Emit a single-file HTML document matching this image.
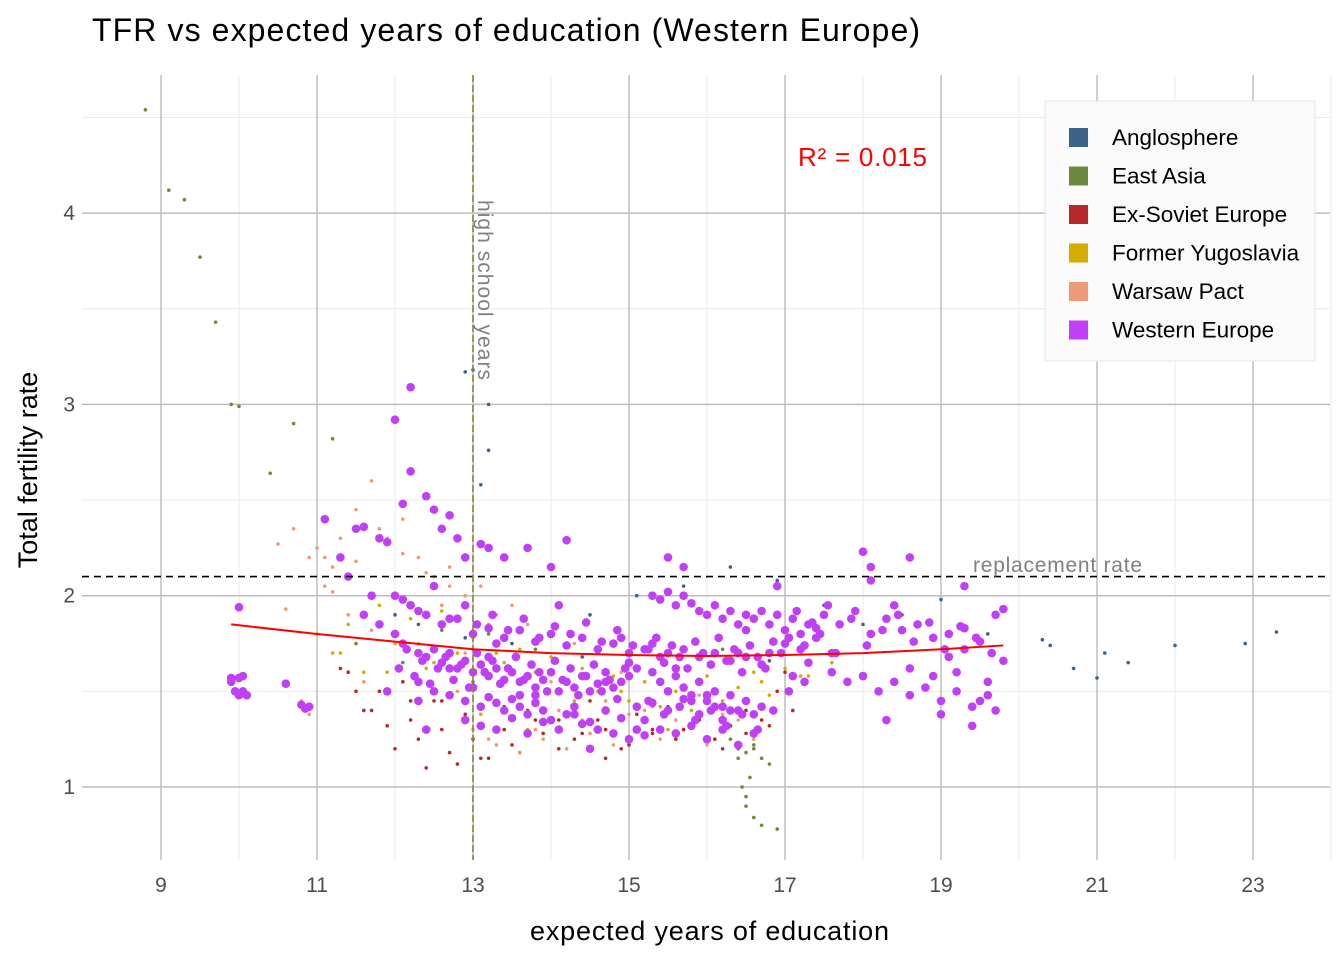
<!DOCTYPE html>
<html><head><meta charset="utf-8"><style>
body{margin:0;background:#fff;font-family:"Liberation Sans",sans-serif}
svg text{font-family:"Liberation Sans",sans-serif}
</style></head><body>
<svg id="chart" width="1344" height="960" xmlns="http://www.w3.org/2000/svg">
<text x="92" y="41" font-size="32" textLength="828" fill="#000">TFR vs expected years of education (Western Europe)</text>
<text x="530" y="940" font-size="27" textLength="359">expected years of education</text>
<text transform="translate(37,470) rotate(-90)" font-size="27" text-anchor="middle">Total fertility rate</text>
<g id="grid"></g><g id="pts"></g><g id="over"></g>
</svg>
<script>
const xTicks=[9,11,13,15,17,19,21,23];
const yTicks=[1,2,3,4];
const weX=[9.9,9.9,9.95,10.0,10.05,10.1,10.0,10.05,10.0,10.6,10.8,10.85,10.9,11.1,11.3,11.4,11.5,11.6,11.7,11.8,11.9,12.0,12.1,12.2,12.2,12.4,12.5,12.6,12.8,12.7,12.9,13.1,13.2,13.4,13.7,14.2,14.0,15.5,15.7,18.0,18.1,18.6,18.1,19.3,16.9,
11.6,11.8,12.0,12.1,12.3,12.4,12.5,12.6,12.7,12.8,12.9,13.0,13.1,13.2,13.3,13.4,13.5,13.6,13.7,13.8,13.9,14.0,14.1,14.2,14.3,14.4,14.5,14.6,14.7,14.8,14.9,15.0,
12.3,12.5,12.7,12.9,13.0,13.1,13.2,13.3,13.4,13.5,13.6,13.7,13.8,13.9,14.0,14.2,14.4,14.6,14.8,15.0,15.1,15.2,
12.2,12.4,12.6,12.8,13.0,13.2,13.4,13.6,13.8,14.0,14.2,14.4,14.6,14.8,15.0,15.2,15.4,
15.3,15.4,15.5,15.6,15.7,15.8,15.9,16.0,16.1,16.2,16.3,16.4,16.5,16.6,16.7,16.8,16.9,17.0,17.1,17.2,17.3,17.4,
15.3,15.4,15.5,15.6,15.7,15.8,15.9,16.0,16.1,16.2,16.3,16.4,16.5,16.6,16.7,
15.2,15.4,15.6,15.8,16.0,16.2,16.4,16.6,
15.3,15.5,15.7,15.9,16.1,16.3,16.5,16.7,16.8,17.0,17.2,17.4,17.6,
17.5,17.7,17.9,18.1,18.3,18.5,18.7,18.9,19.1,19.3,19.5,19.7,19.8,
17.6,17.8,18.0,18.2,18.4,18.6,18.8,19.0,19.2,19.4,19.6,19.8,
18.3,18.6,18.9,19.1,19.3,19.5,19.7,19.0,19.4,
12.0,12.2,12.4,12.9,13.3,13.6,14.1,14.5,14.9,15.1,15.8,16.2,16.5,17.1,17.3,18.4,19.2,19.6,
11.9,12.3,12.7,13.2,13.8,14.3,14.7,15.0,15.6,16.0,16.4,
12.05,12.15,12.25,12.35,12.45,12.55,12.65,12.75,12.85,12.95,13.05,13.15,13.25,13.35,13.45,13.55,13.65,13.75,13.85,13.95,14.05,14.15,14.25,14.35,14.45,14.55,14.65,14.75,14.85,14.95,
12.1,12.3,12.5,12.7,12.9,13.05,13.25,13.45,13.65,13.85,14.05,14.25,14.45,14.65,14.85,15.05,
15.25,15.35,15.45,15.55,15.65,15.75,15.85,15.95,16.05,16.15,16.25,16.35,16.45,16.55,16.65,16.75,16.85,16.95,
15.25,15.45,15.65,15.85,16.05,16.25,16.45,16.65,16.85,17.05,17.25,
17.05,17.15,17.25,17.35,17.45,17.55,17.65,17.85,18.05,18.25,18.45,18.65,18.85,19.05,19.25,19.45,19.65,
13.1,13.3,13.5,13.7,13.9,14.1,14.3,14.5,14.7,14.9,15.1,15.3,15.5,15.7,15.9,16.1,16.3];
const weY=[1.57,1.55,1.5,1.48,1.5,1.48,1.57,1.58,1.94,1.54,1.43,1.41,1.42,2.4,2.2,2.1,2.35,2.36,2.0,2.3,2.28,2.92,2.48,3.09,2.65,2.52,2.45,2.35,2.3,2.42,2.2,2.27,2.25,2.2,2.25,2.29,2.15,2.2,2.15,2.23,2.15,2.2,2.08,2.05,2.05,
1.9,1.85,1.8,1.75,1.7,1.68,1.72,1.65,1.7,1.62,1.66,1.6,1.64,1.58,1.62,1.56,1.6,1.55,1.58,1.52,1.56,1.6,1.5,1.55,1.52,1.58,1.5,1.54,1.6,1.52,1.55,1.58,
1.55,1.5,1.48,1.45,1.52,1.42,1.47,1.44,1.4,1.46,1.42,1.38,1.44,1.4,1.35,1.38,1.33,1.3,1.28,1.25,1.3,1.27,
1.95,1.9,1.85,1.88,1.8,1.83,1.78,1.82,1.76,1.8,1.74,1.78,1.72,1.75,1.7,1.72,1.68,
2.0,1.98,2.02,1.95,2.0,1.96,1.92,1.9,1.95,1.88,1.92,1.85,1.9,1.88,1.92,1.85,1.9,1.82,1.88,1.8,1.85,1.83,
1.6,1.55,1.5,1.58,1.52,1.48,1.55,1.45,1.5,1.42,1.48,1.4,1.45,1.38,1.42,
1.35,1.3,1.28,1.32,1.25,1.3,1.22,1.28,
1.75,1.7,1.72,1.68,1.7,1.66,1.68,1.64,1.7,1.75,1.72,1.78,1.7,
1.9,1.85,1.92,1.8,1.88,1.82,1.85,1.78,1.8,1.83,1.76,1.9,1.93,
1.6,1.55,1.58,1.5,1.55,1.48,1.52,1.45,1.5,1.42,1.48,1.66,
1.35,1.62,1.58,1.68,1.72,1.45,1.4,1.38,1.32,
2.0,1.95,1.3,1.35,1.75,1.48,1.95,1.2,1.78,1.62,1.45,1.35,1.82,1.58,1.65,1.95,1.6,1.55,
1.5,1.45,1.62,1.68,1.48,1.42,1.55,1.65,1.62,1.48,1.7,
1.62,1.72,1.58,1.66,1.54,1.62,1.68,1.56,1.64,1.52,1.7,1.6,1.66,1.54,1.62,1.68,1.56,1.64,1.6,1.5,1.66,1.56,1.62,1.48,1.58,1.64,1.5,1.56,1.46,1.62,
1.98,1.92,2.05,1.88,1.95,1.85,1.9,1.82,1.88,1.78,1.84,1.8,1.86,1.76,1.82,1.74,
1.72,1.78,1.65,1.74,1.68,1.62,1.76,1.7,1.64,1.78,1.66,1.72,1.6,1.74,1.68,1.62,1.76,1.7,
1.45,1.38,1.42,1.35,1.4,1.32,1.38,1.3,1.4,1.5,1.55,
1.78,1.92,1.74,1.86,1.8,1.95,1.7,1.88,1.74,1.82,1.9,1.76,1.86,1.72,1.84,1.78,1.7,
1.32,1.3,1.36,1.28,1.34,1.3,1.38,1.34,1.4,1.36,1.42,1.44,1.4,1.46,1.38,1.42,1.4];
const smallX=[8.8,9.1,9.3,9.5,9.7,9.9,10.0,10.4,10.7,11.2,16.5,16.5,16.6,16.7,16.9,16.4,16.6,16.8,
20.3,20.4,20.7,21.0,21.1,21.4,22.0,22.9,23.3,13.0,12.9,13.2,13.2,13.1,
10.5,10.6,10.7,10.9,11.0,11.1,11.2,11.3,11.5,11.7,11.9,12.1,12.3,12.5,12.7,12.9,13.1,13.3,13.5,13.7,14.0,14.3,14.6,14.9,15.2,15.5,15.8,
11.4,11.6,11.8,12.0,12.2,12.4,12.6,12.8,13.0,13.2,13.4,13.6,13.8,14.1,14.4,14.7,15.0,15.3,15.6,15.9,16.2,16.5,16.8,17.1,
11.0,11.3,11.6,11.9,12.2,12.5,12.8,13.1,13.4,13.7,14.0,14.3,14.6,14.9,15.2,15.5,15.8,16.1,16.4,16.7,17.0,17.3,17.6,
12.0,12.3,12.6,12.9,13.2,13.5,13.8,14.5,15.1,15.7,16.3,16.9,17.5,18.0,18.5,19.0,19.6,
11.5,12.1,12.6,13.0,13.3,13.8,14.4,15.0,15.6,16.2,16.8,
10.8,10.9,11.1,11.2,11.4,11.5,11.7,11.8,12.0,12.1,12.3,12.4,12.6,12.7,12.9,13.0,13.2,13.3,13.5,13.6,13.8,13.9,14.1,14.2,14.4,14.5,14.7,14.8,15.0,15.1,15.3,15.4,15.6,15.7,15.9,16.0,16.2,16.3,16.5,16.6,
11.3,11.5,11.7,11.9,12.1,12.3,12.5,12.7,12.9,13.1,13.3,13.5,13.7,13.9,14.1,14.3,14.5,14.7,14.9,15.1,15.3,15.5,15.7,15.9,16.1,16.3,16.5,16.7,16.9,
11.2,11.4,11.6,11.8,12.0,12.2,12.4,12.6,12.8,13.0,13.2,13.4,13.6,13.8,14.0,14.2,14.4,14.6,14.8,15.0,15.2,15.4,15.6,15.8,16.0,16.2,16.4,16.6,16.8,17.0,17.2,
16.3,16.4,16.5,16.6,16.7,16.55,16.45];
const smallY=[4.54,4.12,4.07,3.77,3.43,3.0,2.99,2.64,2.9,2.82,0.95,0.9,0.84,0.8,0.78,1.15,1.2,1.12,
1.77,1.74,1.62,1.57,1.7,1.65,1.74,1.75,1.81,3.18,3.17,3.0,2.76,2.58,
2.27,1.93,2.35,2.2,2.25,2.05,2.15,2.3,2.45,2.6,2.3,2.4,2.2,2.1,2.15,2.0,2.05,1.9,1.95,1.85,1.8,1.75,1.7,1.6,1.55,1.5,1.45,
1.6,1.4,1.5,1.2,1.35,1.1,1.3,1.12,1.25,1.15,1.3,1.18,1.35,1.2,1.28,1.15,1.22,1.3,1.25,1.35,1.2,1.28,1.32,1.4,
1.8,1.7,1.55,1.6,1.45,1.65,1.5,1.38,1.42,1.3,1.55,1.45,1.35,1.5,1.4,1.3,1.45,1.5,1.35,1.55,1.6,1.58,1.65,
1.9,1.85,1.82,1.78,1.8,1.75,1.72,1.9,2.0,2.05,2.15,2.08,1.95,1.85,1.9,1.98,1.8,
1.75,1.65,1.45,1.55,1.7,1.6,1.68,1.58,1.62,1.72,1.66,
1.45,1.38,2.2,2.02,1.9,2.18,1.82,2.35,2.0,2.22,1.75,2.12,1.95,2.05,1.7,1.3,1.25,1.22,1.35,1.18,1.3,1.25,1.4,1.2,1.35,1.28,1.45,1.22,1.38,1.3,1.42,1.25,1.35,1.3,1.48,1.22,1.38,1.32,1.45,1.25,
1.62,1.5,1.4,1.32,1.55,1.25,1.45,1.18,1.38,1.15,1.3,1.22,1.4,1.28,1.35,1.25,1.45,1.3,1.2,1.38,1.28,1.42,1.3,1.36,1.25,1.32,1.4,1.35,1.5,
1.7,1.85,1.6,1.95,1.75,1.88,1.62,1.92,1.7,1.78,1.85,1.65,1.72,1.6,1.68,1.55,1.62,1.5,1.58,1.45,1.55,1.42,1.5,1.4,1.58,1.45,1.52,1.6,1.48,1.62,1.58,
1.25,1.2,1.18,1.22,1.15,1.05,1.0];
const smallG=[1,1,1,1,1,1,1,1,1,1,1,1,1,1,1,1,1,1,
0,0,0,0,0,0,0,0,0,0,0,0,0,0,
4,4,4,4,4,4,4,4,4,4,4,4,4,4,4,4,4,4,4,4,4,4,4,4,4,4,4,
2,2,2,2,2,2,2,2,2,2,2,2,2,2,2,2,2,2,2,2,2,2,2,2,
3,3,4,3,2,3,4,3,2,3,4,3,2,3,4,3,2,3,4,3,2,3,3,
0,0,1,0,1,0,1,0,0,0,0,0,0,0,0,0,0,
1,1,2,1,3,1,0,1,0,1,0,
4,4,4,4,4,4,4,4,4,4,4,4,4,4,4,4,4,4,4,4,4,4,4,4,4,4,4,4,4,4,4,4,4,4,4,4,4,4,4,4,
2,2,2,2,2,2,2,2,2,2,2,2,2,2,2,2,2,2,2,2,2,2,2,2,2,2,2,2,2,
3,3,3,3,3,3,3,3,3,3,3,3,3,3,3,3,3,3,3,3,3,3,3,3,3,3,3,3,3,3,3,
1,1,1,1,1,1,1];
const groups=["Anglosphere","East Asia","Ex-Soviet Europe","Former Yugoslavia","Warsaw Pact","Western Europe"];
const colors=["#3b6288","#6b8a3c","#b8272a","#d4ad00","#ee9a77","#c040f7"];
const loessX=[9.9,11,12,13,14,15,16,17,18,19,19.8];
const loessY=[1.85,1.80,1.76,1.72,1.70,1.69,1.685,1.69,1.70,1.72,1.74];
const X=v=>161+(v-9)*78, Y=v=>787-(v-1)*191.3;
const NS="http://www.w3.org/2000/svg";
function mk(t,a,p){const e=document.createElementNS(NS,t);for(const k in a)e.setAttribute(k,a[k]);p.appendChild(e);return e;}
const grid=document.getElementById('grid'),pts=document.getElementById('pts'),over=document.getElementById('over');
for(let v=10;v<=24;v+=2){const l=mk('line',{x1:X(v),x2:X(v),y1:75,y2:860,stroke:'#ebebeb','stroke-width':1},grid);

}
for(let v=1.5;v<=4.5;v+=1){const l=mk('line',{x1:82,x2:1330,y1:Y(v),y2:Y(v),stroke:'#ebebeb','stroke-width':1},grid);

}
xTicks.forEach(v=>{const l=mk('line',{x1:X(v),x2:X(v),y1:75,y2:860,stroke:'#bdbdbd','stroke-width':1.5},grid);


const t=mk('text',{x:X(v),y:892,'font-size':21,'text-anchor':'middle',fill:'#4d4d4d'},grid);t.textContent=v;

});
yTicks.forEach(v=>{const l=mk('line',{x1:82,x2:1330,y1:Y(v),y2:Y(v),stroke:'#bdbdbd','stroke-width':1.5},grid);


const t=mk('text',{x:75,y:Y(v)+7,'font-size':21,'text-anchor':'end',fill:'#4d4d4d'},grid);t.textContent=v;

});
smallX.forEach((x,i)=>{const c=mk('circle',{cx:X(x),cy:Y(smallY[i]),r:1.8,fill:colors[smallG[i]]},pts);

});
weX.forEach((x,i)=>{const c=mk('circle',{cx:X(x),cy:Y(weY[i]),r:4.3,fill:colors[5]},pts);

});
const rl=mk('line',{x1:82,x2:1330,y1:Y(2.1),y2:Y(2.1),stroke:'#000','stroke-width':1.6,'stroke-dasharray':'7,5'},over);


const vl=mk('line',{x1:X(13),x2:X(13),y1:75,y2:860,stroke:'#8a8a2a','stroke-width':1.6,'stroke-dasharray':'7,3'},over);


const lp=mk('polyline',{points:loessX.map((x,i)=>X(x)+','+Y(loessY[i])).join(' '),fill:'none',stroke:'#ff0000','stroke-width':2},over);


let t=mk('text',{x:973,y:572,'font-size':21,fill:'#808080',textLength:169},over);t.textContent='replacement rate';


t=mk('text',{transform:'translate(478,200) rotate(90)','font-size':21,fill:'#808080',textLength:180},over);t.textContent='high school years';


t=mk('text',{x:798,y:166,'font-size':26,fill:'#ff0000',textLength:129},over);t.textContent='R² = 0.015';


const lg=mk('g',{},over);


mk('rect',{x:1045,y:101,width:270,height:260,fill:'#fafafa',stroke:'#e6e6e6'},lg);
groups.forEach((g,i)=>{const y=137+i*38.5;
const r=mk('rect',{x:1069,y:y-9,width:19,height:19,fill:colors[i]},lg);


const tt=mk('text',{x:1112,y:y+8,'font-size':22.5,fill:'#000'},lg);tt.textContent=g;

});
</script>
</body></html>
